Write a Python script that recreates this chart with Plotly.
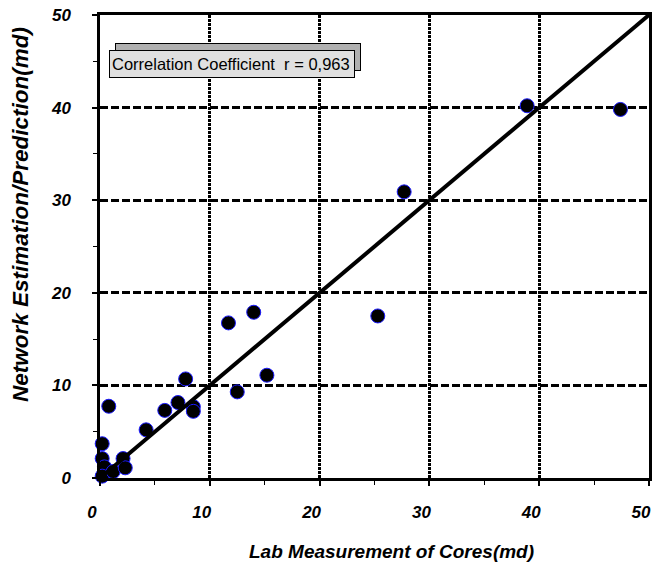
import plotly.graph_objects as go

# Data
lab_x = [0.2, 0.2, 0.4, 0.2, 1.2, 2.1, 2.3, 0.8, 4.2, 5.9, 7.1, 8.5, 8.5, 7.8,
         11.7, 12.5, 14.0, 15.2, 25.3, 27.7, 38.9, 47.4]
net_y = [3.7, 2.1, 1.2, 0.2, 0.7, 2.1, 1.1, 7.75, 5.2, 7.3, 8.15, 7.7, 7.2, 10.7,
         16.75, 9.3, 17.9, 11.1, 17.5, 30.9, 40.2, 39.8]
line_x = [0, 50]
line_y = [0, 50]
tick_vals = [0, 10, 20, 30, 40, 50]
tick_text = ["0", "10", "20", "30", "40", "50"]
annot_text = "Correlation Coefficient  r = 0,963"
x_title = "Lab Measurement of Cores(md)"
y_title = "Network Estimation/Prediction(md)"

FONT = "Liberation Sans, Arial, sans-serif"

fig = go.Figure()
fig.add_trace(go.Scatter(
    x=lab_x, y=net_y, mode="markers", cliponaxis=False,
    marker=dict(size=14, color="black", line=dict(color="#1a1aff", width=1)),
    showlegend=False,
))
fig.add_trace(go.Scatter(
    x=line_x, y=line_y, mode="lines", cliponaxis=False,
    line=dict(color="black", width=4), showlegend=False,
))

axis_common = dict(
    range=[0, 50], tickvals=tick_vals, ticktext=tick_text,
    showline=True, linecolor="black", linewidth=2.5, mirror=True,
    ticks="outside", ticklen=5, tickwidth=2, tickcolor="black",
    showgrid=True, gridcolor="black", gridwidth=3,
    zeroline=False,
    minor=dict(dtick=5, tick0=0, ticks="outside", ticklen=4, tickwidth=1,
               tickcolor="black", showgrid=False),
    tickfont=dict(family=FONT, size=17, color="black", weight="bold", style="italic"),
)

fig.update_xaxes(**axis_common, griddash="3px,1px",
                 ticklabelshift=-8, ticklabelstandoff=12)
fig.update_yaxes(**axis_common, griddash="8px,3px", ticklabelstandoff=18)

title_font = dict(family=FONT, color="black", weight="bold", style="italic")
fig.add_annotation(
    xref="paper", yref="paper", x=0.531, y=-0.158, xanchor="center", yanchor="middle",
    text=x_title, showarrow=False, font=dict(size=19, **title_font),
)
fig.add_annotation(
    xref="paper", yref="paper", x=-0.145, y=0.569, xanchor="center", yanchor="middle",
    text=y_title, textangle=-90, showarrow=False, font=dict(size=22.5, **title_font),
)

# 3D-looking annotation box: back face then front face
fig.add_annotation(
    xref="paper", yref="paper", x=0.241, y=0.894, xanchor="center", yanchor="middle",
    xshift=6, yshift=7,
    text=" ", showarrow=False,
    font=dict(family=FONT, size=16, color="black"),
    bgcolor="#b0b0b0", bordercolor="black", borderwidth=1, borderpad=2,
    width=240, height=22,
)
fig.add_annotation(
    xref="paper", yref="paper", x=0.241, y=0.894, xanchor="center", yanchor="middle",
    text=annot_text, showarrow=False, align="left",
    font=dict(family=FONT, size=16.5, color="black"),
    bgcolor="#e0e0e0", bordercolor="black", borderwidth=1, borderpad=2,
    width=240, height=22,
)

fig.update_layout(
    width=654, height=566,
    margin=dict(l=100, r=2, t=15, b=88),
    paper_bgcolor="white", plot_bgcolor="white",
)

fig.write_html("out.html")
